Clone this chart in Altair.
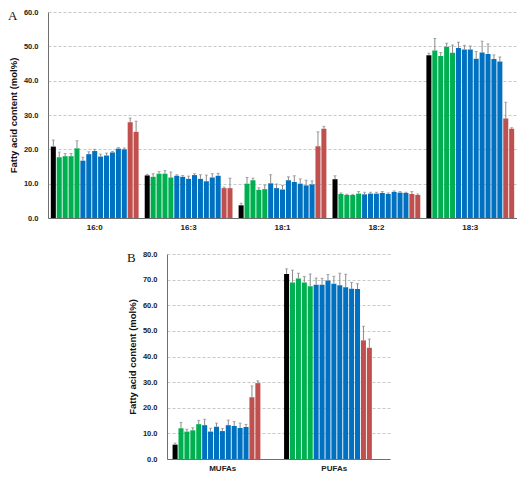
import altair as alt
import pandas as pd

strains = ["WT", "G1", "G2", "G3", "G4", "B1", "B2", "B3", "B4", "B5", "B6", "B7", "B8", "R1", "R2"]
kinds = ["Control"] + ["Green"] * 4 + ["Blue"] * 8 + ["Red"] * 2
kind_domain = ["Control", "Green", "Blue", "Red"]
kind_colors = ["#000000", "#00B050", "#0070C0", "#C0504D"]

fa_a = ["16:0", "16:3", "18:1", "18:2", "18:3"]
v_160 = [20.8, 17.7, 18.0, 18.0, 20.3, 16.7, 18.6, 19.5, 17.9, 18.2, 19.1, 20.2, 20.0, 27.9, 25.1]
e_160 = [1.9, 1.5, 0.8, 0.8, 2.2, 1.0, 0.7, 0.5, 0.7, 0.7, 0.3, 0.3, 0.4, 1.2, 3.1]
v_163 = [12.4, 12.0, 12.9, 12.9, 11.8, 12.3, 12.0, 11.4, 12.5, 11.4, 10.7, 11.8, 12.3, 8.7, 8.7]
e_163 = [0.3, 0.9, 0.6, 0.9, 1.6, 0.3, 0.4, 0.8, 0.4, 1.2, 1.8, 1.1, 0.7, 0.3, 2.9]
v_181 = [3.7, 10.0, 11.0, 8.2, 8.4, 10.1, 8.7, 8.3, 11.0, 10.5, 10.0, 9.5, 9.8, 20.9, 26.0]
e_181 = [0.6, 1.8, 0.6, 0.6, 1.2, 2.5, 1.2, 1.2, 1.0, 1.8, 1.4, 1.5, 1.0, 4.2, 0.7]
v_182 = [11.3, 7.0, 6.7, 6.7, 7.1, 6.9, 7.1, 7.1, 7.3, 7.0, 7.6, 7.4, 7.3, 7.0, 6.7]
e_182 = [1.0, 0.3, 0.2, 0.2, 0.6, 0.6, 0.4, 0.4, 0.4, 0.3, 0.3, 0.3, 0.2, 0.7, 0.3]
v_183 = [47.4, 48.8, 47.2, 49.9, 48.1, 49.5, 49.1, 49.1, 46.4, 48.2, 47.8, 46.3, 45.6, 29.0, 26.0]
e_183 = [0.6, 3.5, 1.0, 1.0, 2.3, 1.7, 1.2, 1.0, 2.1, 3.3, 2.9, 1.2, 1.3, 4.7, 0.3]

fa_b = ["MUFAs", "PUFAs"]
v_mufa = [5.6, 12.0, 10.7, 11.2, 13.6, 13.2, 10.7, 12.6, 10.9, 13.2, 12.9, 12.1, 12.5, 24.1, 29.6]
e_mufa = [0.6, 2.3, 0.9, 1.0, 1.5, 2.3, 1.3, 1.4, 1.0, 2.0, 1.7, 1.9, 1.0, 4.4, 0.9]
v_pufa = [72.2, 68.9, 70.4, 68.9, 67.4, 68.0, 68.0, 69.7, 68.4, 67.8, 67.0, 66.4, 66.3, 46.3, 43.4]
e_pufa = [2.0, 4.8, 2.1, 2.3, 4.8, 2.6, 2.5, 2.3, 2.9, 4.7, 5.1, 2.5, 2.1, 5.5, 3.4]

y_title = "Fatty acid content (mol%)"
FONT = "Liberation Sans"


def make_df(cats, vals, errs):
    rows = []
    for c, vs, es in zip(cats, vals, errs):
        for s, k, v, e in zip(strains, kinds, vs, es):
            rows.append({"fa": c, "strain": s, "kind": k, "val": v, "hi": v + e})
    return pd.DataFrame(rows)


def y_axis(ymax):
    return alt.Axis(title=y_title, values=list(range(0, ymax + 1, 10)), format=".1f",
                    ticks=False, labelPadding=10, labelFont=FONT, labelFontWeight="bold",
                    labelFontSize=7.5, labelColor="#222222", labelOverlap=False,
                    titleFont=FONT, titleFontWeight="bold", titleFontSize=9.5,
                    titleColor="#111111", titlePadding=5,
                    grid=True, gridDash=[3, 2], gridColor="#c8c8c8",
                    domainColor="#6f6f6f")


def panel(df, cats, ymax, width, height, letter, p_inner, p_outer):
    ysc = alt.Scale(domain=[0, ymax], nice=False)
    base = alt.Chart(df).encode(
        x=alt.X("fa:N", sort=cats,
                scale=alt.Scale(paddingInner=p_inner, paddingOuter=p_outer),
                axis=alt.Axis(title=None, labelAngle=0, ticks=False, labelFont=FONT,
                              labelFontWeight="bold", labelFontSize=8, labelColor="#222222",
                              labelPadding=5, domainColor="#6f6f6f")),
        xOffset=alt.XOffset("strain:N", sort=strains, scale=alt.Scale(paddingInner=0.15)),
    )
    bars = base.mark_bar().encode(
        y=alt.Y("val:Q", scale=ysc, axis=y_axis(ymax)),
        color=alt.Color("kind:N", scale=alt.Scale(domain=kind_domain, range=kind_colors), legend=None),
    )
    err = base.mark_rule(color="#8a8a8a", strokeWidth=1).encode(
        y=alt.Y("val:Q", scale=ysc, axis=y_axis(ymax)), y2="hi:Q")
    caps = base.mark_tick(color="#8a8a8a", thickness=1, size=3).encode(
        y=alt.Y("hi:Q", scale=ysc, axis=y_axis(ymax)))
    lab = alt.Chart(pd.DataFrame({"t": [letter]})).mark_text(
        font="Liberation Serif", fontSize=13, align="left", baseline="middle", color="#111111"
    ).encode(x=alt.value(-40), y=alt.value(4), text="t:N")
    return alt.layer(bars, err, caps, lab).properties(width=width, height=height)


df_a = make_df(fa_a, [v_160, v_163, v_181, v_182, v_183], [e_160, e_163, e_181, e_182, e_183])
df_b = make_df(fa_b, [v_mufa, v_pufa], [e_mufa, e_pufa])

pa = panel(df_a, fa_a, 60, 469, 206, "A", 0.065, 0.03)
pb = panel(df_b, fa_b, 80, 223, 205, "B", 0.1, 0.05)

spacer = alt.Chart(pd.DataFrame({"s": [0]})).mark_point(opacity=0).encode(
    x=alt.value(0), y=alt.value(0)
).properties(width=79, height=205)

row_b = alt.hconcat(spacer, pb, spacing=0)

chart = alt.vconcat(pa, row_b, spacing=19).properties(
    padding={"left": 0, "top": 0, "right": 0, "bottom": 0}, background="white"
).configure_view(stroke="transparent", strokeWidth=0)

chart.save("out.html", embed_options={"renderer": "svg", "actions": False})
